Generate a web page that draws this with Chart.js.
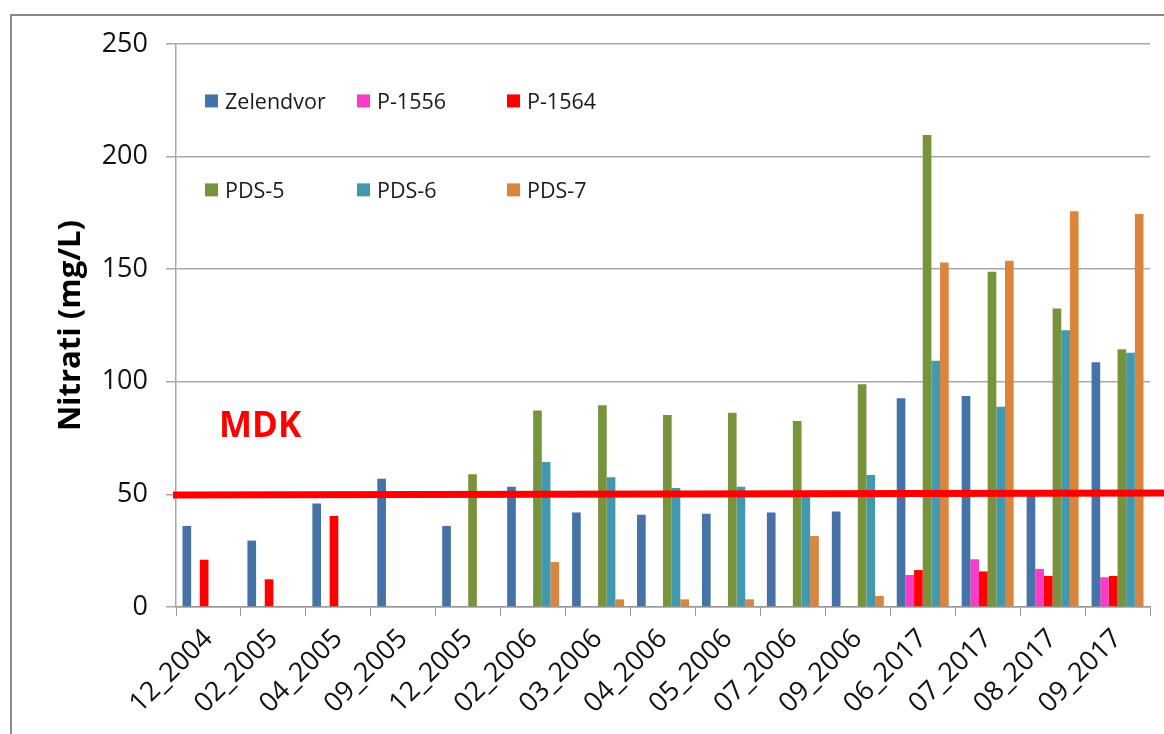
<!DOCTYPE html>
<html>
<head>
<meta charset="utf-8">
<script src="https://cdn.jsdelivr.net/npm/chart.js@4"></script>
<style>
  html, body { margin: 0; padding: 0; background: #fff; }
  #wrap { width: 1164px; height: 734px; position: relative; }
</style>
</head>
<body>
<div id="wrap"><canvas id="c" width="1164" height="734"></canvas></div>
<script>
const categories = ['12_2004','02_2005','04_2005','09_2005','12_2005','02_2006','03_2006','04_2006','05_2006','07_2006','09_2006','06_2017','07_2017','08_2017','09_2017'];
const seriesNames = ['Zelendvor','P-1556','P-1564','PDS-5','PDS-6','PDS-7'];
const zelendvor = [36, 29.5, 46, 57, 36, 53.4, 42, 41, 41.4, 42, 42.4, 92.7, 93.7, 50.5, 108.7];
const p1556 = [null, null, null, null, null, null, null, null, null, null, null, 14.2, 21.2, 16.9, 13.2];
const p1564 = [21, 12.3, 40.4, null, null, null, null, null, null, null, null, 16.4, 15.8, 13.8, 13.8];
const pds5 = [null, null, null, null, 59, 87.3, 89.6, 85.3, 86.3, 82.6, 98.9, 209.6, 148.9, 132.6, 114.4];
const pds6 = [null, null, null, null, null, 64.4, 57.6, 52.8, 53.4, 49, 58.6, 109.4, 88.9, 122.9, 112.9];
const pds7 = [null, null, null, null, null, 20, 3.4, 3.4, 3.4, 31.5, 4.9, 153, 153.8, 175.7, 174.5];
const yTicks = [0, 50, 100, 150, 200, 250];
const mdkLimit = 50;
const mdkLabel = 'MDK';
const yTitle = 'Nitrati (mg/L)';

const colors = ['#4572A7', '#F73CC8', '#FF0000', '#77933C', '#4198AF', '#DB843D'];
const seriesData = [zelendvor, p1556, p1564, pds5, pds6, pds7];

const FONT = "'Open Sans', 'DejaVu Sans', sans-serif";

const decorPlugin = {
  id: 'decor',
  beforeDraw(chart) {
    const ctx = chart.ctx;
    ctx.save();
    ctx.fillStyle = '#fff';
    ctx.fillRect(0, 0, chart.width, chart.height);
    ctx.strokeStyle = '#8a8a8a';
    ctx.lineWidth = 2;
    ctx.strokeRect(11, 15, chart.width + 20, chart.height + 20);
    ctx.restore();
  },
  afterDatasetsDraw(chart) {
    const ctx = chart.ctx;
    const y = chart.scales.y;
    const area = chart.chartArea;
    ctx.save();
    // MDK limit line
    ctx.strokeStyle = '#FF0000';
    ctx.lineWidth = 7;
    ctx.beginPath();
    ctx.moveTo(area.left - 3, y.getPixelForValue(mdkLimit) + 0.5);
    ctx.lineTo(chart.width, y.getPixelForValue(mdkLimit) - 1.5);
    ctx.stroke();
    // MDK label
    ctx.fillStyle = '#FF0000';
    ctx.font = "bold 35px " + FONT;
    ctx.textBaseline = 'middle';
    ctx.textAlign = 'left';
    ctx.fillText(mdkLabel, area.left + 43, y.getPixelForValue(80));
    // Legend inside plot
    const cols = [29, 181, 331];
    const rows = [224.5, 185];
    ctx.font = "21.5px " + FONT;
    chart.data.datasets.forEach((ds, i) => {
      const cx = area.left + cols[i % 3];
      const cy = y.getPixelForValue(rows[Math.floor(i / 3)]);
      ctx.fillStyle = ds.backgroundColor;
      ctx.fillRect(cx, cy - 7, 13, 13);
      ctx.fillStyle = '#1a1a1a';
      ctx.fillText(ds.label, cx + 20, cy + 1);
    });
    ctx.restore();
  }
};

new Chart(document.getElementById('c'), {
  type: 'bar',
  data: {
    labels: categories,
    datasets: seriesNames.map((n, i) => ({
      label: n,
      data: seriesData[i],
      backgroundColor: colors[i],
      borderWidth: 0,
      categoryPercentage: 0.8,
      barPercentage: 1.0
    }))
  },
  options: {
    responsive: false,
    animation: false,
    devicePixelRatio: 1,
    layout: { padding: { left: 0, top: 44, right: 14, bottom: 0 } },
    plugins: {
      legend: { display: false },
      tooltip: { enabled: false }
    },
    scales: {
      x: {
        grid: { display: true, drawOnChartArea: false, drawTicks: true, tickLength: 9, color: '#999', offset: true },
        border: { display: true, color: '#999', width: 1.5 },
        ticks: {
          color: '#111',
          font: { family: FONT, size: 27 },
          minRotation: 45, maxRotation: 45,
          padding: 7,
          autoSkip: false
        },
        afterFit(scale) { scale.height = 127; }
      },
      y: {
        min: 0, max: 250,
        afterBuildTicks(scale) { scale.ticks = yTicks.map(v => ({ value: v })); },
        grid: { color: '#a8a8a8', lineWidth: 1.5, tickLength: 10, drawTicks: true },
        border: { display: true, color: '#a8a8a8', width: 1.5 },
        ticks: {
          color: '#111',
          font: { family: FONT, size: 27 },
          padding: 18
        },
        title: {
          display: true,
          text: yTitle,
          color: '#000',
          font: { family: FONT, size: 31, weight: 'bold' },
          padding: { top: 53, bottom: 0 }
        },
        afterFit(scale) { scale.width = 176; }
      }
    }
  },
  plugins: [decorPlugin]
});
</script>
</body>
</html>
